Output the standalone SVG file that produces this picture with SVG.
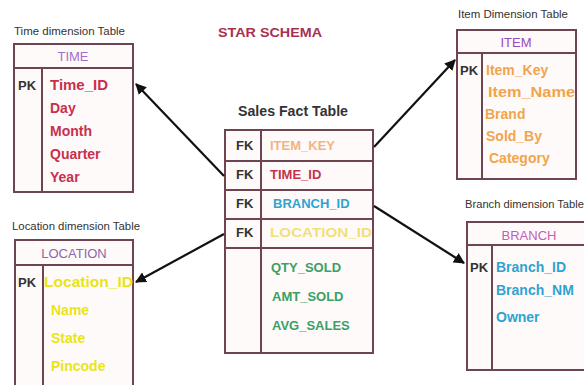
<svg xmlns="http://www.w3.org/2000/svg" width="584" height="385" viewBox="0 0 584 385">
<defs>
<marker id="ah" viewBox="0 0 10 10" refX="9" refY="5" markerWidth="5" markerHeight="5" orient="auto-start-reverse">
<path d="M0,0 L10,5 L0,10 z" fill="#111"/>
</marker>
<style>
.box{fill:#fffafa;stroke:#6e4450;stroke-width:2}
.ln{stroke:#6e4450;stroke-width:2;fill:none}
.t{font-family:"Liberation Sans",Arial,sans-serif}
.cap{font-size:10px;fill:#333}
.hd{font-size:13px;text-anchor:middle}
.f{font-size:14px;font-weight:bold}
.pk{font-size:13px;font-weight:bold;fill:#333}
.conn{stroke:#111;stroke-width:2.2;fill:none;marker-end:url(#ah)}
</style>
</defs>
<rect width="584" height="385" fill="#ffffff"/>

<text class="t" x="218" y="37" font-size="13" font-weight="bold" fill="#a8304f" textLength="104" lengthAdjust="spacingAndGlyphs">STAR SCHEMA</text>

<g id="time">
<text class="t cap" x="14" y="35" textLength="111" lengthAdjust="spacingAndGlyphs">Time dimension Table</text>
<rect class="box" x="14" y="44" width="119" height="148"/>
<line class="ln" x1="14" y1="68" x2="133" y2="68"/>
<line class="ln" x1="42" y1="68" x2="42" y2="192"/>
<text class="t hd" x="73" y="61" fill="#a070c8">TIME</text>
<text class="t pk" x="18" y="90">PK</text>
<g class="t f" fill="#c8304c">
<text x="50" y="90" textLength="58" lengthAdjust="spacingAndGlyphs">Time_ID</text>
<text x="50" y="113">Day</text>
<text x="50" y="136">Month</text>
<text x="50" y="159">Quarter</text>
<text x="50" y="182">Year</text>
</g>
</g>

<g id="item">
<text class="t cap" x="458" y="18" textLength="110" lengthAdjust="spacingAndGlyphs">Item Dimension Table</text>
<rect class="box" x="457" y="30" width="119" height="149"/>
<line class="ln" x1="457" y1="53" x2="576" y2="53"/>
<line class="ln" x1="482" y1="53" x2="482" y2="179"/>
<text class="t hd" x="516" y="47" fill="#9a48c0">ITEM</text>
<text class="t pk" x="460" y="75">PK</text>
<g class="t f" fill="#f0a54c">
<text x="486" y="75">Item_Key</text>
<text x="488" y="97" textLength="87" lengthAdjust="spacingAndGlyphs">Item_Name</text>
<text x="485" y="119">Brand</text>
<text x="486" y="141">Sold_By</text>
<text x="489" y="163">Category</text>
</g>
</g>

<g id="location">
<text class="t cap" x="12" y="230" textLength="128" lengthAdjust="spacingAndGlyphs">Location dimension Table</text>
<rect class="box" x="15" y="240" width="118" height="150"/>
<line class="ln" x1="15" y1="265" x2="133" y2="265"/>
<line class="ln" x1="43" y1="265" x2="43" y2="390"/>
<text class="t hd" x="74" y="258" fill="#8a68a8">LOCATION</text>
<text class="t pk" x="18" y="287">PK</text>
<g class="t f" fill="#e8e41a">
<text x="44" y="287" textLength="89" lengthAdjust="spacingAndGlyphs">Location_ID</text>
<text x="51" y="315">Name</text>
<text x="51" y="343">State</text>
<text x="51" y="371">Pincode</text>
</g>
</g>

<g id="fact">
<text class="t" x="238" y="116" font-size="14" font-weight="bold" fill="#333" textLength="110" lengthAdjust="spacingAndGlyphs">Sales Fact Table</text>
<rect class="box" x="225" y="130" width="148" height="223"/>
<line class="ln" x1="225" y1="161" x2="373" y2="161" stroke-width="3"/>
<line class="ln" x1="225" y1="190" x2="373" y2="190" stroke-width="3"/>
<line class="ln" x1="225" y1="219" x2="373" y2="219" stroke-width="3"/>
<line class="ln" x1="225" y1="248" x2="373" y2="248" stroke-width="3"/>
<line class="ln" x1="261" y1="130" x2="261" y2="353"/>
<g class="t pk">
<text x="236" y="150">FK</text>
<text x="236" y="179">FK</text>
<text x="236" y="208">FK</text>
<text x="236" y="237">FK</text>
</g>
<g class="t" font-size="13" font-weight="bold">
<text x="270" y="150" fill="#f2b482">ITEM_KEY</text>
<text x="270" y="179" fill="#c8304c">TIME_ID</text>
<text x="273" y="208" fill="#2fa3d0">BRANCH_ID</text>
<text x="270" y="237" fill="#f0e07a" textLength="102" lengthAdjust="spacingAndGlyphs">LOCATION_ID</text>
<text x="271" y="272" fill="#3aa066">QTY_SOLD</text>
<text x="272" y="301" fill="#3aa066">AMT_SOLD</text>
<text x="272" y="330" fill="#3aa066">AVG_SALES</text>
</g>
</g>

<g id="branch">
<text class="t cap" x="465" y="208" textLength="119" lengthAdjust="spacingAndGlyphs">Branch dimension Table</text>
<rect class="box" x="467" y="222" width="118" height="148"/>
<line class="ln" x1="467" y1="245" x2="585" y2="245"/>
<line class="ln" x1="492" y1="245" x2="492" y2="370"/>
<text class="t hd" x="529" y="240" fill="#c060b8">BRANCH</text>
<text class="t pk" x="470" y="272">PK</text>
<g class="t f" fill="#2fa3d0">
<text x="496" y="272">Branch_ID</text>
<text x="496" y="295">Branch_NM</text>
<text x="496" y="322">Owner</text>
</g>
</g>

<g id="connectors">
<line class="conn" x1="224" y1="176" x2="136" y2="84"/>
<line class="conn" x1="374" y1="147" x2="455" y2="60"/>
<line class="conn" x1="374" y1="206" x2="464" y2="263"/>
<line class="conn" x1="224" y1="234" x2="136" y2="282"/>
</g>
</svg>
